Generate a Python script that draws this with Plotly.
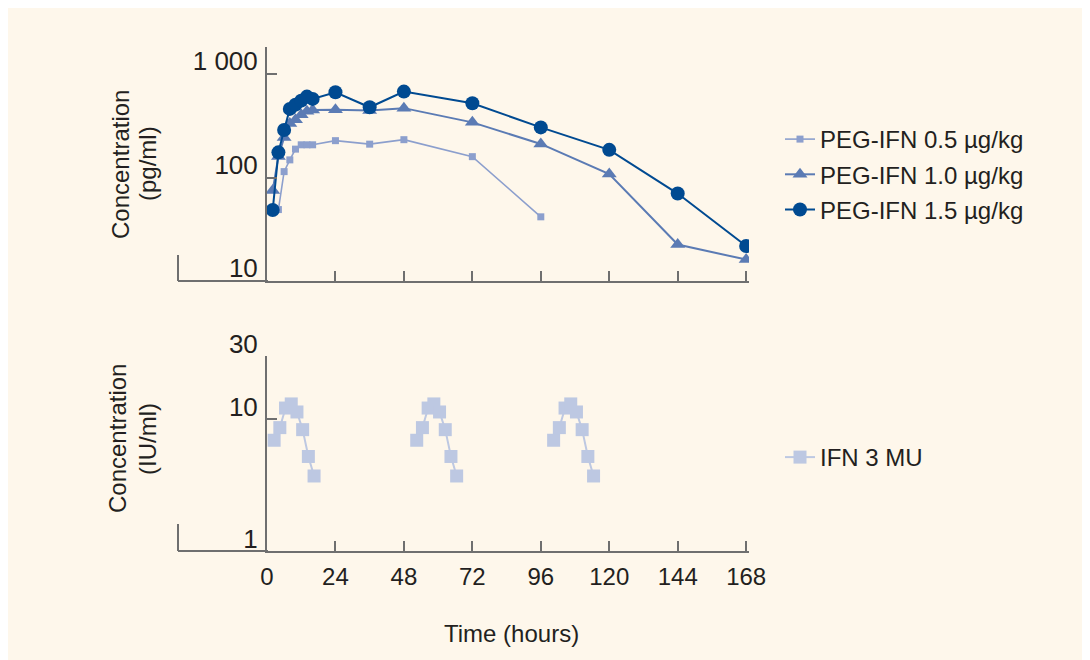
import plotly.graph_objects as go

# ---- data ----
peg_hours = [2, 4, 6, 8, 10, 12, 14, 16, 24, 36, 48, 72, 96, 120, 144, 168]
peg05_hours = [4, 6, 8, 10, 12, 14, 16, 24, 36, 48, 72, 96]
peg05_values = [49, 114, 148, 188, 207, 207, 207, 227, 210, 232, 159, 41.7]
peg10_values = [75, 160, 244, 333, 362, 405, 437, 450, 452, 445, 468, 341, 211, 108, 22.5, 16.1]
peg15_values = [48.5, 175, 288, 460, 506, 553, 605, 575, 667, 477, 676, 521, 305, 185, 70, 21.8]

ifn_cycle1_hours = [2.5, 4.5, 6.5, 8.5, 10.5, 12.5, 14.5, 16.5]
ifn_cycle2_hours = [52.5, 54.5, 56.5, 58.5, 60.5, 62.5, 64.5, 66.5]
ifn_cycle3_hours = [100.5, 102.5, 104.5, 106.5, 108.5, 110.5, 112.5, 114.5]
ifn_cycle_values = [6.9, 8.6, 12.1, 13.0, 11.3, 8.3, 5.2, 3.7]

x_ticks = [0, 24, 48, 72, 96, 120, 144, 168]
top_tickvals = [10, 100, 1000]
top_ticktext = ["10", "100", "1 000"]
bot_tickvals = [1, 10, 30]
bot_ticktext = ["1", "10", "30"]

# ---- styling ----
W, H = 1090, 660
OFF = 8                  # page body margin: figure px = screen px - 8
L, R = 267 - OFF, 749 - OFF
FONT = "Liberation Sans"
TXT = "#231f20"
AX = "#6f6f6f"
CREAM = "#fef7eb"
C05, C10, C15, CIFN = "#8c9fcd", "#5b7bb4", "#004a91", "#bdc8e2"

def px2paper_x(sx):
    return (sx - OFF - L) / (R - L)

def px2paper_y(sy):
    return (H - (sy - OFF)) / H

ifn_hours = ifn_cycle1_hours + [None] + ifn_cycle2_hours + [None] + ifn_cycle3_hours
ifn_values = ifn_cycle_values + [None] + ifn_cycle_values + [None] + ifn_cycle_values

fig = go.Figure()
fig.add_trace(go.Scatter(x=peg05_hours, y=peg05_values, name="PEG-IFN 0.5 µg/kg",
                         mode="lines+markers", line=dict(color=C05, width=1.6),
                         marker=dict(symbol="square", size=7, color=C05),
                         xaxis="x", yaxis="y", legend="legend", legendgroup="a"))
fig.add_trace(go.Scatter(x=peg_hours, y=peg10_values, name="PEG-IFN 1.0 µg/kg",
                         mode="lines+markers", line=dict(color=C10, width=2),
                         marker=dict(symbol="triangle-up", size=13, color=C10),
                         xaxis="x", yaxis="y", legend="legend", legendgroup="b"))
fig.add_trace(go.Scatter(x=peg_hours, y=peg15_values, name="PEG-IFN 1.5 µg/kg",
                         mode="lines+markers", line=dict(color=C15, width=2),
                         marker=dict(symbol="circle", size=14, color=C15),
                         xaxis="x", yaxis="y", legend="legend", legendgroup="c"))
fig.add_trace(go.Scatter(x=ifn_hours, y=ifn_values, name="IFN 3 MU",
                         mode="lines+markers", connectgaps=False,
                         line=dict(color=CIFN, width=2),
                         marker=dict(symbol="square", size=13, color=CIFN),
                         xaxis="x2", yaxis="y2", legend="legend2"))

axis_common = dict(showline=True, linecolor=AX, linewidth=2, showgrid=False,
                   zeroline=False, ticks="inside", ticklen=10, tickwidth=2,
                   tickcolor=AX, mirror=False)

# screen pixel positions of the axes in the reference
top_y0, top_y1 = 281, 47
bot_y0, bot_y1 = 551, 356

fig.update_layout(
    width=W, height=H,
    margin=dict(l=L, r=W - R, t=0, b=0, autoexpand=False),
    paper_bgcolor=CREAM, plot_bgcolor="rgba(0,0,0,0)",
    font=dict(family=FONT, size=24, color=TXT),
    xaxis=dict(axis_common, range=[0, 169], domain=[0, 1], anchor="y",
               tickvals=x_ticks[1:], showticklabels=False),
    yaxis=dict(axis_common, type="log", range=[1, 3.261],
               domain=[px2paper_y(top_y0), px2paper_y(top_y1)], anchor="x",
               tickvals=top_tickvals, ticktext=top_ticktext, tickfont=dict(size=26),
               ticklabelshift=-13, ticklabelstandoff=2),
    xaxis2=dict(axis_common, range=[0, 169], domain=[0, 1], anchor="y2",
                tickvals=x_ticks, ticklabelstandoff=3),
    yaxis2=dict(axis_common, type="log", range=[0, 1.477],
                domain=[px2paper_y(bot_y0), px2paper_y(bot_y1)], anchor="x2",
                tickvals=bot_tickvals, ticktext=bot_ticktext, tickfont=dict(size=26),
                ticklabelshift=-12, ticklabelstandoff=2),
    legend=dict(x=px2paper_x(780), xanchor="left", y=px2paper_y(117), yanchor="top",
                bgcolor="rgba(0,0,0,0)", font=dict(size=24, color=TXT),
                tracegroupgap=1),
    legend2=dict(x=px2paper_x(780), xanchor="left", y=px2paper_y(435), yanchor="top",
                 bgcolor="rgba(0,0,0,0)", font=dict(size=24, color=TXT)),
    showlegend=True,
)

shapes = []
for base, stub in [(top_y0, 255), (bot_y0, 524)]:
    shapes.append(dict(type="line", xref="paper", yref="paper",
                       x0=px2paper_x(178), x1=px2paper_x(268), y0=px2paper_y(base), y1=px2paper_y(base),
                       line=dict(color=AX, width=2)))
    shapes.append(dict(type="line", xref="paper", yref="paper",
                       x0=px2paper_x(178), x1=px2paper_x(178), y0=px2paper_y(base), y1=px2paper_y(stub),
                       line=dict(color=AX, width=2)))
fig.update_layout(shapes=shapes)

def label(text, sx, sy, angle=0):
    fig.add_annotation(text=text, textangle=angle, xref="paper", yref="paper",
                       x=px2paper_x(sx), y=px2paper_y(sy), xanchor="center", yanchor="middle",
                       showarrow=False, font=dict(size=24, color=TXT))

label("Concentration", 120, 165, -90)
label("(pg/ml)", 148, 164, -90)
label("Concentration", 117, 439, -90)
label("(IU/ml)", 147, 439, -90)
label("Time (hours)", 511, 633)

fig.write_html("out.html")
